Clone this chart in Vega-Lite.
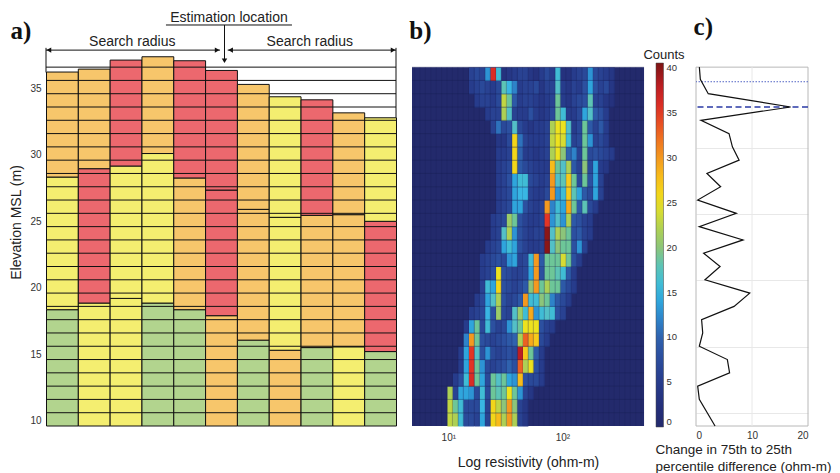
{
"$schema": "https://vega.github.io/schema/vega-lite/v6.json",
"padding": {"left": 9, "top": 2, "right": 0, "bottom": 0},
"background": "white",
"bounds": "flush",
"spacing": 16,
"config": {
  "font": "Liberation Sans",
  "view": {"stroke": null},
  "axis": {"labelFont": "Liberation Sans", "titleFont": "Liberation Sans", "labelColor": "#333", "titleColor": "#222", "titleFontWeight": "normal"},
  "legend": {"labelFont": "Liberation Sans"}
},
"datasets": {
  "bars": [
    {"col":0,"b":9.6,"t":18.35,"k":"green"},{"col":0,"b":18.35,"t":28.33,"k":"yellow"},{"col":0,"b":28.33,"t":36.23,"k":"orange"},
    {"col":1,"b":9.6,"t":18.85,"k":"yellow"},{"col":1,"b":18.85,"t":28.96,"k":"red"},{"col":1,"b":28.96,"t":36.45,"k":"orange"},
    {"col":2,"b":9.6,"t":19.2,"k":"yellow"},{"col":2,"b":19.2,"t":29.16,"k":"yellow"},{"col":2,"b":29.16,"t":37.13,"k":"red"},
    {"col":3,"b":9.6,"t":18.85,"k":"green"},{"col":3,"b":18.85,"t":30.1,"k":"yellow"},{"col":3,"b":30.1,"t":37.38,"k":"orange"},
    {"col":4,"b":9.6,"t":18.35,"k":"green"},{"col":4,"b":18.35,"t":28.26,"k":"orange"},{"col":4,"b":28.26,"t":37.08,"k":"red"},
    {"col":5,"b":9.6,"t":17.9,"k":"orange"},{"col":5,"b":17.9,"t":27.35,"k":"red"},{"col":5,"b":27.35,"t":36.35,"k":"red"},
    {"col":6,"b":9.6,"t":16.06,"k":"green"},{"col":6,"b":16.06,"t":25.9,"k":"orange"},{"col":6,"b":25.9,"t":35.3,"k":"orange"},
    {"col":7,"b":9.6,"t":15.3,"k":"orange"},{"col":7,"b":15.3,"t":25.3,"k":"yellow"},{"col":7,"b":25.3,"t":34.37,"k":"yellow"},
    {"col":8,"b":9.6,"t":15.5,"k":"green"},{"col":8,"b":15.5,"t":25.45,"k":"orange"},{"col":8,"b":25.45,"t":34.14,"k":"red"},
    {"col":9,"b":9.6,"t":15.56,"k":"yellow"},{"col":9,"b":15.56,"t":25.5,"k":"orange"},{"col":9,"b":25.5,"t":33.16,"k":"orange"},
    {"col":10,"b":9.6,"t":15.2,"k":"green"},{"col":10,"b":15.2,"t":25.0,"k":"red"},{"col":10,"b":25.0,"t":32.79,"k":"yellow"}
  ],
  "layers": [
    {"e":10.6},{"e":11.6},{"e":12.6},{"e":13.6},{"e":14.6},{"e":15.6},{"e":16.6},{"e":17.6},{"e":18.6},{"e":19.6},
    {"e":20.6},{"e":21.6},{"e":22.6},{"e":23.6},{"e":24.6},{"e":25.6},{"e":26.6},{"e":27.6},{"e":28.6},{"e":29.6},
    {"e":30.6},{"e":31.6},{"e":32.6},{"e":33.6},{"e":34.6},{"e":35.6},{"e":36.6}
  ],
  "rbins": [
    {"r":0.705},{"r":0.752},{"r":0.799},{"r":0.847},{"r":0.894},{"r":0.941},{"r":0.988},{"r":1.036},{"r":1.083},{"r":1.13},
    {"r":1.177},{"r":1.225},{"r":1.272},{"r":1.319},{"r":1.366},{"r":1.414},{"r":1.461},{"r":1.508},{"r":1.555},{"r":1.603},
    {"r":1.65},{"r":1.697},{"r":1.744},{"r":1.792},{"r":1.839},{"r":1.886},{"r":1.933},{"r":1.98},{"r":2.028},{"r":2.075},
    {"r":2.122},{"r":2.169},{"r":2.217},{"r":2.264},{"r":2.311},{"r":2.358},{"r":2.406},{"r":2.453},{"r":2.5},{"r":2.547},
    {"r":2.595},{"r":2.642},{"r":2.689}
  ],
  "spread": [
    {"e":36.6,"v":0.6},{"e":35.68,"v":0.77},{"e":34.6,"v":2.19},{"e":33.6,"v":16.9},{"e":32.6,"v":0.89},{"e":31.6,"v":5.9},
    {"e":30.6,"v":6.5},{"e":29.6,"v":7.7},{"e":28.6,"v":1.95},{"e":27.6,"v":4.4},{"e":26.6,"v":0.3},{"e":25.6,"v":7.2},
    {"e":24.6,"v":0.59},{"e":23.6,"v":8.4},{"e":22.6,"v":1.36},{"e":21.6,"v":4.3},{"e":20.6,"v":1.6},{"e":19.6,"v":9.6},
    {"e":18.6,"v":6.8},{"e":17.6,"v":1.0},{"e":16.6,"v":1.2},{"e":15.6,"v":0.59},{"e":14.6,"v":5.6},{"e":13.6,"v":6.0},
    {"e":12.6,"v":0.3},{"e":11.6,"v":0.59},{"e":9.6,"v":3.4}
  ],
  "heat": [
    {"e":35.6,"r":1.177,"n":6},{"e":35.6,"r":1.225,"n":7},{"e":35.6,"r":1.272,"n":6},{"e":35.6,"r":1.319,"n":13},{"e":35.6,"r":1.366,"n":36},{"e":35.6,"r":1.414,"n":16},{"e":35.6,"r":1.461,"n":3},{"e":35.6,"r":1.508,"n":4},{"e":35.6,"r":1.555,"n":5},{"e":35.6,"r":1.603,"n":6},{"e":35.6,"r":1.65,"n":6},{"e":35.6,"r":1.697,"n":4},{"e":35.6,"r":1.744,"n":3},{"e":35.6,"r":1.792,"n":5},{"e":35.6,"r":1.839,"n":7},{"e":35.6,"r":1.886,"n":5},{"e":35.6,"r":1.933,"n":16},{"e":35.6,"r":1.98,"n":3},{"e":35.6,"r":2.028,"n":3},{"e":35.6,"r":2.075,"n":5},{"e":35.6,"r":2.122,"n":6},{"e":35.6,"r":2.169,"n":7},{"e":35.6,"r":2.217,"n":13},{"e":35.6,"r":2.264,"n":7},{"e":35.6,"r":2.311,"n":6},{"e":35.6,"r":2.358,"n":5},{"e":35.6,"r":2.406,"n":4},
    {"e":34.6,"r":1.177,"n":5},{"e":34.6,"r":1.225,"n":6},{"e":34.6,"r":1.272,"n":7},{"e":34.6,"r":1.319,"n":6},{"e":34.6,"r":1.366,"n":5},{"e":34.6,"r":1.414,"n":7},{"e":34.6,"r":1.461,"n":18},{"e":34.6,"r":1.508,"n":15},{"e":34.6,"r":1.555,"n":12},{"e":34.6,"r":1.603,"n":5},{"e":34.6,"r":1.65,"n":6},{"e":34.6,"r":1.697,"n":6},{"e":34.6,"r":1.744,"n":7},{"e":34.6,"r":1.792,"n":4},{"e":34.6,"r":1.839,"n":6},{"e":34.6,"r":1.886,"n":6},{"e":34.6,"r":1.933,"n":17},{"e":34.6,"r":1.98,"n":5},{"e":34.6,"r":2.028,"n":4},{"e":34.6,"r":2.075,"n":6},{"e":34.6,"r":2.122,"n":5},{"e":34.6,"r":2.169,"n":8},{"e":34.6,"r":2.217,"n":14},{"e":34.6,"r":2.264,"n":8},{"e":34.6,"r":2.311,"n":6},{"e":34.6,"r":2.358,"n":7},{"e":34.6,"r":2.406,"n":4},
    {"e":33.6,"r":1.225,"n":5},{"e":33.6,"r":1.272,"n":6},{"e":33.6,"r":1.319,"n":6},{"e":33.6,"r":1.366,"n":5},{"e":33.6,"r":1.414,"n":7},{"e":33.6,"r":1.461,"n":23},{"e":33.6,"r":1.508,"n":19},{"e":33.6,"r":1.555,"n":9},{"e":33.6,"r":1.603,"n":5},{"e":33.6,"r":1.65,"n":6},{"e":33.6,"r":1.697,"n":6},{"e":33.6,"r":1.744,"n":5},{"e":33.6,"r":1.792,"n":4},{"e":33.6,"r":1.839,"n":5},{"e":33.6,"r":1.886,"n":6},{"e":33.6,"r":1.933,"n":19},{"e":33.6,"r":1.98,"n":5},{"e":33.6,"r":2.028,"n":4},{"e":33.6,"r":2.075,"n":6},{"e":33.6,"r":2.122,"n":7},{"e":33.6,"r":2.169,"n":8},{"e":33.6,"r":2.217,"n":18},{"e":33.6,"r":2.264,"n":6},{"e":33.6,"r":2.311,"n":6},{"e":33.6,"r":2.358,"n":4},{"e":33.6,"r":2.406,"n":3},
    {"e":32.6,"r":1.319,"n":5},{"e":32.6,"r":1.366,"n":6},{"e":32.6,"r":1.414,"n":6},{"e":32.6,"r":1.461,"n":22},{"e":32.6,"r":1.508,"n":17},{"e":32.6,"r":1.555,"n":6},{"e":32.6,"r":1.603,"n":5},{"e":32.6,"r":1.65,"n":5},{"e":32.6,"r":1.697,"n":8},{"e":32.6,"r":1.744,"n":5},{"e":32.6,"r":1.792,"n":4},{"e":32.6,"r":1.839,"n":5},{"e":32.6,"r":1.886,"n":7},{"e":32.6,"r":1.933,"n":19},{"e":32.6,"r":1.98,"n":16},{"e":32.6,"r":2.028,"n":5},{"e":32.6,"r":2.075,"n":5},{"e":32.6,"r":2.122,"n":7},{"e":32.6,"r":2.169,"n":14},{"e":32.6,"r":2.217,"n":17},{"e":32.6,"r":2.264,"n":9},{"e":32.6,"r":2.311,"n":8},{"e":32.6,"r":2.358,"n":5},
    {"e":31.6,"r":1.366,"n":6},{"e":31.6,"r":1.414,"n":11},{"e":31.6,"r":1.461,"n":7},{"e":31.6,"r":1.508,"n":8},{"e":31.6,"r":1.555,"n":17},{"e":31.6,"r":1.603,"n":7},{"e":31.6,"r":1.65,"n":5},{"e":31.6,"r":1.697,"n":4},{"e":31.6,"r":1.744,"n":5},{"e":31.6,"r":1.792,"n":5},{"e":31.6,"r":1.839,"n":6},{"e":31.6,"r":1.886,"n":22},{"e":31.6,"r":1.933,"n":25},{"e":31.6,"r":1.98,"n":25},{"e":31.6,"r":2.028,"n":17},{"e":31.6,"r":2.075,"n":5},{"e":31.6,"r":2.122,"n":7},{"e":31.6,"r":2.169,"n":19},{"e":31.6,"r":2.217,"n":9},{"e":31.6,"r":2.264,"n":6},{"e":31.6,"r":2.311,"n":9},{"e":31.6,"r":2.358,"n":5},
    {"e":30.6,"r":1.414,"n":4},{"e":30.6,"r":1.461,"n":4},{"e":30.6,"r":1.508,"n":7},{"e":30.6,"r":1.555,"n":26},{"e":30.6,"r":1.603,"n":11},{"e":30.6,"r":1.65,"n":6},{"e":30.6,"r":1.697,"n":5},{"e":30.6,"r":1.744,"n":5},{"e":30.6,"r":1.792,"n":5},{"e":30.6,"r":1.839,"n":6},{"e":30.6,"r":1.886,"n":23},{"e":30.6,"r":1.933,"n":25},{"e":30.6,"r":1.98,"n":24},{"e":30.6,"r":2.028,"n":16},{"e":30.6,"r":2.075,"n":6},{"e":30.6,"r":2.122,"n":7},{"e":30.6,"r":2.169,"n":19},{"e":30.6,"r":2.217,"n":13},{"e":30.6,"r":2.264,"n":6},{"e":30.6,"r":2.311,"n":7},{"e":30.6,"r":2.358,"n":5},
    {"e":29.6,"r":1.414,"n":5},{"e":29.6,"r":1.461,"n":5},{"e":29.6,"r":1.508,"n":6},{"e":29.6,"r":1.555,"n":26},{"e":29.6,"r":1.603,"n":10},{"e":29.6,"r":1.65,"n":5},{"e":29.6,"r":1.697,"n":5},{"e":29.6,"r":1.744,"n":4},{"e":29.6,"r":1.792,"n":5},{"e":29.6,"r":1.839,"n":6},{"e":29.6,"r":1.886,"n":22},{"e":29.6,"r":1.933,"n":25},{"e":29.6,"r":1.98,"n":20},{"e":29.6,"r":2.028,"n":10},{"e":29.6,"r":2.075,"n":12},{"e":29.6,"r":2.122,"n":6},{"e":29.6,"r":2.169,"n":19},{"e":29.6,"r":2.217,"n":7},{"e":29.6,"r":2.264,"n":8},{"e":29.6,"r":2.311,"n":7},{"e":29.6,"r":2.358,"n":6},{"e":29.6,"r":2.406,"n":5},
    {"e":28.6,"r":1.414,"n":5},{"e":28.6,"r":1.461,"n":6},{"e":28.6,"r":1.508,"n":7},{"e":28.6,"r":1.555,"n":26},{"e":28.6,"r":1.603,"n":9},{"e":28.6,"r":1.65,"n":7},{"e":28.6,"r":1.697,"n":6},{"e":28.6,"r":1.744,"n":5},{"e":28.6,"r":1.792,"n":5},{"e":28.6,"r":1.839,"n":5},{"e":28.6,"r":1.886,"n":28},{"e":28.6,"r":1.933,"n":19},{"e":28.6,"r":1.98,"n":17},{"e":28.6,"r":2.028,"n":22},{"e":28.6,"r":2.075,"n":9},{"e":28.6,"r":2.122,"n":6},{"e":28.6,"r":2.169,"n":20},{"e":28.6,"r":2.217,"n":7},{"e":28.6,"r":2.264,"n":14},{"e":28.6,"r":2.311,"n":5},{"e":28.6,"r":2.358,"n":4},
    {"e":27.6,"r":1.414,"n":5},{"e":27.6,"r":1.461,"n":6},{"e":27.6,"r":1.508,"n":8},{"e":27.6,"r":1.555,"n":14},{"e":27.6,"r":1.603,"n":16},{"e":27.6,"r":1.65,"n":16},{"e":27.6,"r":1.697,"n":7},{"e":27.6,"r":1.744,"n":6},{"e":27.6,"r":1.792,"n":5},{"e":27.6,"r":1.839,"n":6},{"e":27.6,"r":1.886,"n":30},{"e":27.6,"r":1.933,"n":17},{"e":27.6,"r":1.98,"n":18},{"e":27.6,"r":2.028,"n":27},{"e":27.6,"r":2.075,"n":19},{"e":27.6,"r":2.122,"n":7},{"e":27.6,"r":2.169,"n":19},{"e":27.6,"r":2.217,"n":8},{"e":27.6,"r":2.264,"n":14},{"e":27.6,"r":2.311,"n":6},
    {"e":26.6,"r":1.414,"n":5},{"e":26.6,"r":1.461,"n":6},{"e":26.6,"r":1.508,"n":7},{"e":26.6,"r":1.555,"n":14},{"e":26.6,"r":1.603,"n":15},{"e":26.6,"r":1.65,"n":15},{"e":26.6,"r":1.697,"n":6},{"e":26.6,"r":1.744,"n":5},{"e":26.6,"r":1.792,"n":5},{"e":26.6,"r":1.839,"n":7},{"e":26.6,"r":1.886,"n":30},{"e":26.6,"r":1.933,"n":13},{"e":26.6,"r":1.98,"n":16},{"e":26.6,"r":2.028,"n":27},{"e":26.6,"r":2.075,"n":18},{"e":26.6,"r":2.122,"n":14},{"e":26.6,"r":2.169,"n":9},{"e":26.6,"r":2.217,"n":7},{"e":26.6,"r":2.264,"n":14},{"e":26.6,"r":2.311,"n":6},
    {"e":25.6,"r":1.414,"n":5},{"e":25.6,"r":1.461,"n":6},{"e":25.6,"r":1.508,"n":7},{"e":25.6,"r":1.555,"n":14},{"e":25.6,"r":1.603,"n":14},{"e":25.6,"r":1.65,"n":8},{"e":25.6,"r":1.697,"n":6},{"e":25.6,"r":1.744,"n":5},{"e":25.6,"r":1.792,"n":6},{"e":25.6,"r":1.839,"n":30},{"e":25.6,"r":1.886,"n":12},{"e":25.6,"r":1.933,"n":16},{"e":25.6,"r":1.98,"n":14},{"e":25.6,"r":2.028,"n":29},{"e":25.6,"r":2.075,"n":19},{"e":25.6,"r":2.122,"n":9},{"e":25.6,"r":2.169,"n":18},{"e":25.6,"r":2.217,"n":7},{"e":25.6,"r":2.264,"n":5},
    {"e":24.6,"r":1.366,"n":5},{"e":24.6,"r":1.414,"n":6},{"e":24.6,"r":1.461,"n":7},{"e":24.6,"r":1.508,"n":21},{"e":24.6,"r":1.555,"n":19},{"e":24.6,"r":1.603,"n":8},{"e":24.6,"r":1.65,"n":6},{"e":24.6,"r":1.697,"n":5},{"e":24.6,"r":1.744,"n":5},{"e":24.6,"r":1.792,"n":6},{"e":24.6,"r":1.839,"n":35},{"e":24.6,"r":1.886,"n":13},{"e":24.6,"r":1.933,"n":17},{"e":24.6,"r":1.98,"n":13},{"e":24.6,"r":2.028,"n":22},{"e":24.6,"r":2.075,"n":9},{"e":24.6,"r":2.122,"n":8},{"e":24.6,"r":2.169,"n":6},{"e":24.6,"r":2.217,"n":5},
    {"e":23.6,"r":1.366,"n":5},{"e":23.6,"r":1.414,"n":6},{"e":23.6,"r":1.461,"n":17},{"e":23.6,"r":1.508,"n":22},{"e":23.6,"r":1.555,"n":13},{"e":23.6,"r":1.603,"n":8},{"e":23.6,"r":1.65,"n":6},{"e":23.6,"r":1.697,"n":5},{"e":23.6,"r":1.744,"n":6},{"e":23.6,"r":1.792,"n":6},{"e":23.6,"r":1.839,"n":40},{"e":23.6,"r":1.886,"n":17},{"e":23.6,"r":1.933,"n":22},{"e":23.6,"r":1.98,"n":20},{"e":23.6,"r":2.028,"n":19},{"e":23.6,"r":2.075,"n":8},{"e":23.6,"r":2.122,"n":9},{"e":23.6,"r":2.169,"n":6},{"e":23.6,"r":2.217,"n":5},
    {"e":22.6,"r":1.319,"n":5},{"e":22.6,"r":1.366,"n":6},{"e":22.6,"r":1.414,"n":7},{"e":22.6,"r":1.461,"n":14},{"e":22.6,"r":1.508,"n":16},{"e":22.6,"r":1.555,"n":14},{"e":22.6,"r":1.603,"n":8},{"e":22.6,"r":1.65,"n":6},{"e":22.6,"r":1.697,"n":5},{"e":22.6,"r":1.744,"n":5},{"e":22.6,"r":1.792,"n":6},{"e":22.6,"r":1.839,"n":40},{"e":22.6,"r":1.886,"n":17},{"e":22.6,"r":1.933,"n":20},{"e":22.6,"r":1.98,"n":19},{"e":22.6,"r":2.028,"n":19},{"e":22.6,"r":2.075,"n":8},{"e":22.6,"r":2.122,"n":13},{"e":22.6,"r":2.169,"n":6},
    {"e":21.6,"r":1.272,"n":5},{"e":21.6,"r":1.319,"n":6},{"e":21.6,"r":1.366,"n":7},{"e":21.6,"r":1.414,"n":8},{"e":21.6,"r":1.461,"n":7},{"e":21.6,"r":1.508,"n":13},{"e":21.6,"r":1.555,"n":14},{"e":21.6,"r":1.603,"n":6},{"e":21.6,"r":1.65,"n":7},{"e":21.6,"r":1.697,"n":16},{"e":21.6,"r":1.744,"n":30},{"e":21.6,"r":1.792,"n":9},{"e":21.6,"r":1.839,"n":19},{"e":21.6,"r":1.886,"n":19},{"e":21.6,"r":1.933,"n":19},{"e":21.6,"r":1.98,"n":24},{"e":21.6,"r":2.028,"n":19},{"e":21.6,"r":2.075,"n":8},{"e":21.6,"r":2.122,"n":5},
    {"e":20.6,"r":1.272,"n":5},{"e":20.6,"r":1.319,"n":6},{"e":20.6,"r":1.366,"n":8},{"e":20.6,"r":1.414,"n":25},{"e":20.6,"r":1.461,"n":8},{"e":20.6,"r":1.508,"n":7},{"e":20.6,"r":1.555,"n":6},{"e":20.6,"r":1.603,"n":6},{"e":20.6,"r":1.65,"n":7},{"e":20.6,"r":1.697,"n":14},{"e":20.6,"r":1.744,"n":30},{"e":20.6,"r":1.792,"n":8},{"e":20.6,"r":1.839,"n":19},{"e":20.6,"r":1.886,"n":19},{"e":20.6,"r":1.933,"n":18},{"e":20.6,"r":1.98,"n":16},{"e":20.6,"r":2.028,"n":9},{"e":20.6,"r":2.075,"n":5},
    {"e":19.6,"r":1.272,"n":6},{"e":19.6,"r":1.319,"n":16},{"e":19.6,"r":1.366,"n":14},{"e":19.6,"r":1.414,"n":26},{"e":19.6,"r":1.461,"n":8},{"e":19.6,"r":1.508,"n":7},{"e":19.6,"r":1.555,"n":6},{"e":19.6,"r":1.603,"n":7},{"e":19.6,"r":1.65,"n":9},{"e":19.6,"r":1.697,"n":20},{"e":19.6,"r":1.744,"n":30},{"e":19.6,"r":1.792,"n":19},{"e":19.6,"r":1.839,"n":22},{"e":19.6,"r":1.886,"n":19},{"e":19.6,"r":1.933,"n":19},{"e":19.6,"r":1.98,"n":9},{"e":19.6,"r":2.028,"n":7},{"e":19.6,"r":2.075,"n":5},
    {"e":18.6,"r":1.225,"n":5},{"e":18.6,"r":1.272,"n":7},{"e":18.6,"r":1.319,"n":14},{"e":18.6,"r":1.366,"n":17},{"e":18.6,"r":1.414,"n":22},{"e":18.6,"r":1.461,"n":8},{"e":18.6,"r":1.508,"n":6},{"e":18.6,"r":1.555,"n":7},{"e":18.6,"r":1.603,"n":9},{"e":18.6,"r":1.65,"n":30},{"e":18.6,"r":1.697,"n":16},{"e":18.6,"r":1.744,"n":16},{"e":18.6,"r":1.792,"n":20},{"e":18.6,"r":1.839,"n":19},{"e":18.6,"r":1.886,"n":12},{"e":18.6,"r":1.933,"n":9},{"e":18.6,"r":1.98,"n":7},{"e":18.6,"r":2.028,"n":5},
    {"e":17.6,"r":1.177,"n":5},{"e":17.6,"r":1.225,"n":6},{"e":17.6,"r":1.272,"n":7},{"e":17.6,"r":1.319,"n":15},{"e":17.6,"r":1.366,"n":8},{"e":17.6,"r":1.414,"n":21},{"e":17.6,"r":1.461,"n":7},{"e":17.6,"r":1.508,"n":6},{"e":17.6,"r":1.555,"n":17},{"e":17.6,"r":1.603,"n":21},{"e":17.6,"r":1.65,"n":16},{"e":17.6,"r":1.697,"n":29},{"e":17.6,"r":1.744,"n":13},{"e":17.6,"r":1.792,"n":16},{"e":17.6,"r":1.839,"n":17},{"e":17.6,"r":1.886,"n":16},{"e":17.6,"r":1.933,"n":8},{"e":17.6,"r":1.98,"n":6},
    {"e":16.6,"r":1.13,"n":5},{"e":16.6,"r":1.177,"n":14},{"e":16.6,"r":1.225,"n":19},{"e":16.6,"r":1.272,"n":7},{"e":16.6,"r":1.319,"n":16},{"e":16.6,"r":1.366,"n":8},{"e":16.6,"r":1.414,"n":6},{"e":16.6,"r":1.461,"n":7},{"e":16.6,"r":1.508,"n":13},{"e":16.6,"r":1.555,"n":17},{"e":16.6,"r":1.603,"n":19},{"e":16.6,"r":1.65,"n":25},{"e":16.6,"r":1.697,"n":25},{"e":16.6,"r":1.744,"n":25},{"e":16.6,"r":1.792,"n":8},{"e":16.6,"r":1.839,"n":6},{"e":16.6,"r":1.886,"n":5},
    {"e":15.6,"r":1.13,"n":12},{"e":15.6,"r":1.177,"n":30},{"e":15.6,"r":1.225,"n":19},{"e":15.6,"r":1.272,"n":8},{"e":15.6,"r":1.319,"n":7},{"e":15.6,"r":1.366,"n":6},{"e":15.6,"r":1.414,"n":7},{"e":15.6,"r":1.461,"n":8},{"e":15.6,"r":1.508,"n":9},{"e":15.6,"r":1.555,"n":10},{"e":15.6,"r":1.603,"n":22},{"e":15.6,"r":1.65,"n":33},{"e":15.6,"r":1.697,"n":29},{"e":15.6,"r":1.744,"n":27},{"e":15.6,"r":1.792,"n":7},{"e":15.6,"r":1.839,"n":5},
    {"e":14.6,"r":1.083,"n":5},{"e":14.6,"r":1.13,"n":14},{"e":14.6,"r":1.177,"n":35},{"e":14.6,"r":1.225,"n":17},{"e":14.6,"r":1.272,"n":8},{"e":14.6,"r":1.319,"n":13},{"e":14.6,"r":1.366,"n":7},{"e":14.6,"r":1.414,"n":6},{"e":14.6,"r":1.461,"n":7},{"e":14.6,"r":1.508,"n":8},{"e":14.6,"r":1.555,"n":7},{"e":14.6,"r":1.603,"n":38},{"e":14.6,"r":1.65,"n":27},{"e":14.6,"r":1.697,"n":19},{"e":14.6,"r":1.744,"n":9},{"e":14.6,"r":1.792,"n":5},
    {"e":13.6,"r":1.083,"n":5},{"e":13.6,"r":1.13,"n":14},{"e":13.6,"r":1.177,"n":35},{"e":13.6,"r":1.225,"n":19},{"e":13.6,"r":1.272,"n":13},{"e":13.6,"r":1.319,"n":7},{"e":13.6,"r":1.366,"n":6},{"e":13.6,"r":1.414,"n":7},{"e":13.6,"r":1.461,"n":8},{"e":13.6,"r":1.508,"n":10},{"e":13.6,"r":1.555,"n":8},{"e":13.6,"r":1.603,"n":33},{"e":13.6,"r":1.65,"n":22},{"e":13.6,"r":1.697,"n":25},{"e":13.6,"r":1.744,"n":8},{"e":13.6,"r":1.792,"n":5},
    {"e":12.6,"r":1.036,"n":5},{"e":12.6,"r":1.083,"n":8},{"e":12.6,"r":1.13,"n":16},{"e":12.6,"r":1.177,"n":36},{"e":12.6,"r":1.225,"n":19},{"e":12.6,"r":1.272,"n":14},{"e":12.6,"r":1.319,"n":7},{"e":12.6,"r":1.366,"n":19},{"e":12.6,"r":1.414,"n":17},{"e":12.6,"r":1.461,"n":19},{"e":12.6,"r":1.508,"n":14},{"e":12.6,"r":1.555,"n":13},{"e":12.6,"r":1.603,"n":28},{"e":12.6,"r":1.65,"n":8},{"e":12.6,"r":1.697,"n":7},{"e":12.6,"r":1.744,"n":7},{"e":12.6,"r":1.792,"n":5},
    {"e":11.6,"r":0.988,"n":22},{"e":11.6,"r":1.036,"n":6},{"e":11.6,"r":1.083,"n":14},{"e":11.6,"r":1.13,"n":14},{"e":11.6,"r":1.177,"n":13},{"e":11.6,"r":1.225,"n":7},{"e":11.6,"r":1.272,"n":16},{"e":11.6,"r":1.319,"n":7},{"e":11.6,"r":1.366,"n":19},{"e":11.6,"r":1.414,"n":18},{"e":11.6,"r":1.461,"n":19},{"e":11.6,"r":1.508,"n":25},{"e":11.6,"r":1.555,"n":19},{"e":11.6,"r":1.603,"n":13},{"e":11.6,"r":1.65,"n":6},{"e":11.6,"r":1.697,"n":4},
    {"e":10.6,"r":0.988,"n":23},{"e":10.6,"r":1.036,"n":19},{"e":10.6,"r":1.083,"n":16},{"e":10.6,"r":1.13,"n":7},{"e":10.6,"r":1.177,"n":7},{"e":10.6,"r":1.225,"n":7},{"e":10.6,"r":1.272,"n":15},{"e":10.6,"r":1.319,"n":6},{"e":10.6,"r":1.366,"n":26},{"e":10.6,"r":1.414,"n":23},{"e":10.6,"r":1.461,"n":20},{"e":10.6,"r":1.508,"n":30},{"e":10.6,"r":1.555,"n":20},{"e":10.6,"r":1.603,"n":6},{"e":10.6,"r":1.65,"n":4},
    {"e":9.6,"r":0.988,"n":23},{"e":9.6,"r":1.036,"n":22},{"e":9.6,"r":1.083,"n":16},{"e":9.6,"r":1.13,"n":7},{"e":9.6,"r":1.177,"n":7},{"e":9.6,"r":1.225,"n":6},{"e":9.6,"r":1.272,"n":14},{"e":9.6,"r":1.319,"n":6},{"e":9.6,"r":1.366,"n":26},{"e":9.6,"r":1.414,"n":28},{"e":9.6,"r":1.461,"n":22},{"e":9.6,"r":1.508,"n":30},{"e":9.6,"r":1.555,"n":22},{"e":9.6,"r":1.603,"n":6},{"e":9.6,"r":1.65,"n":4}
  ]
},
"hconcat": [
  {
    "width": 350, "height": 424,
    "layer": [
      {"data": {"name": "bars"},
       "mark": {"type": "rect", "stroke": "#111", "strokeWidth": 1},
       "encoding": {
         "x": {"field": "col", "type": "quantitative", "bin": {"binned": true, "step": 1}, "scale": {"domain": [0, 11], "nice": false, "zero": false}, "axis": null},
         "y": {"field": "b", "type": "quantitative", "scale": {"domain": [9.6, 41.5], "nice": false, "zero": false},
               "axis": {"values": [10, 15, 20, 25, 30, 35], "ticks": false, "domain": false, "grid": false, "labelFontSize": 10, "labelPadding": 5, "title": "Elevation MSL (m)", "titleFontSize": 14, "titlePadding": 6, "titleY": 220}},
         "y2": {"field": "t"},
         "color": {"field": "k", "type": "nominal", "scale": {"domain": ["green", "yellow", "orange", "red"], "range": ["#b2d48e", "#f4ee70", "#f7c66b", "#ec686e"]}, "legend": null}
       }},
      {"data": {"name": "layers"}, "mark": {"type": "rule", "color": "#111", "strokeWidth": 1}, "encoding": {"y": {"field": "e", "type": "quantitative"}}},
      {"data": {"values": [{}]}, "mark": {"type": "rule", "color": "#111", "strokeWidth": 1}, "encoding": {"x": {"datum": 0}, "x2": {"datum": 5.47}, "y": {"datum": 37.88}}},
      {"data": {"values": [{}]}, "mark": {"type": "rule", "color": "#111", "strokeWidth": 1}, "encoding": {"x": {"datum": 5.71}, "x2": {"datum": 11}, "y": {"datum": 37.88}}},
      {"data": {"values": [{}]}, "mark": {"type": "rule", "color": "#111", "strokeWidth": 1}, "encoding": {"x": {"datum": 0}, "y": {"datum": 36.2}, "y2": {"datum": 38.05}}},
      {"data": {"values": [{}]}, "mark": {"type": "rule", "color": "#111", "strokeWidth": 1}, "encoding": {"x": {"datum": 11}, "y": {"datum": 32.8}, "y2": {"datum": 38.05}}},
      {"data": {"values": [{}]}, "mark": {"type": "rule", "color": "#111", "strokeWidth": 1}, "encoding": {"x": {"datum": 5.61}, "y": {"datum": 37.0}, "y2": {"datum": 39.77}}},
      {"data": {"values": [{}]}, "mark": {"type": "rule", "color": "#111", "strokeWidth": 1}, "encoding": {"x": {"datum": 3.77}, "x2": {"datum": 7.73}, "y": {"datum": 39.77}}},
      {"data": {"values": [{}]}, "mark": {"type": "point", "shape": "triangle-left", "filled": true, "color": "#111", "size": 30, "opacity": 1}, "encoding": {"x": {"datum": 0.09}, "y": {"datum": 37.88}}},
      {"data": {"values": [{}]}, "mark": {"type": "point", "shape": "triangle-right", "filled": true, "color": "#111", "size": 30, "opacity": 1}, "encoding": {"x": {"datum": 5.38}, "y": {"datum": 37.88}}},
      {"data": {"values": [{}]}, "mark": {"type": "point", "shape": "triangle-left", "filled": true, "color": "#111", "size": 30, "opacity": 1}, "encoding": {"x": {"datum": 5.8}, "y": {"datum": 37.88}}},
      {"data": {"values": [{}]}, "mark": {"type": "point", "shape": "triangle-right", "filled": true, "color": "#111", "size": 30, "opacity": 1}, "encoding": {"x": {"datum": 10.91}, "y": {"datum": 37.88}}},
      {"data": {"values": [{}]}, "mark": {"type": "point", "shape": "triangle-down", "filled": true, "color": "#111", "size": 30, "opacity": 1}, "encoding": {"x": {"datum": 5.61}, "y": {"datum": 37.08}}},
      {"data": {"values": [{}]}, "mark": {"type": "text", "text": "Estimation location", "fontSize": 14, "color": "#222", "align": "center", "baseline": "middle"}, "encoding": {"x": {"datum": 5.75}, "y": {"datum": 40.27}}},
      {"data": {"values": [{}]}, "mark": {"type": "text", "text": "Search radius", "fontSize": 14, "color": "#222", "align": "center", "baseline": "middle"}, "encoding": {"x": {"datum": 2.71}, "y": {"datum": 38.5}}},
      {"data": {"values": [{}]}, "mark": {"type": "text", "text": "Search radius", "fontSize": 14, "color": "#222", "align": "center", "baseline": "middle"}, "encoding": {"x": {"datum": 8.29}, "y": {"datum": 38.5}}},
      {"data": {"values": [{}]}, "mark": {"type": "text", "text": "a)", "font": "Liberation Serif", "fontWeight": "bold", "fontSize": 25, "color": "#111", "align": "center", "baseline": "middle"}, "encoding": {"x": {"datum": -0.79}, "y": {"datum": 39.32}}}
    ]
  },
  {
    "width": 268, "height": 424,
    "layer": [
      {"data": {"values": [{}]},
       "mark": {"type": "rect", "color": "#232a6c"},
       "encoding": {
         "x": {"datum": 0.682, "type": "quantitative", "scale": {"domain": [0.682, 3.03], "nice": false, "zero": false},
               "axis": {"values": [1, 2], "labelExpr": "datum.value == 1 ? '10¹' : '10²'", "ticks": false, "domain": false, "grid": false, "labelFontSize": 10, "labelPadding": 6, "title": "Log resistivity (ohm-m)", "titleFontSize": 14, "titleX": 116, "titleY": 36, "titleAlign": "center", "titleBaseline": "middle"}},
         "x2": {"datum": 2.715},
         "y": {"datum": 9.6, "type": "quantitative", "scale": {"domain": [9.6, 41.5], "nice": false, "zero": false}, "axis": null},
         "y2": {"datum": 36.6}
       }},
      {"data": {"name": "heat"},
       "mark": {"type": "rect"},
       "encoding": {
         "x": {"field": "r", "type": "quantitative", "bin": {"binned": true, "step": 0.04724}},
         "y": {"field": "e", "type": "quantitative", "bin": {"binned": true, "step": 1}},
         "color": {"field": "n", "type": "quantitative",
                   "scale": {"domain": [0, 2.5, 5, 7.5, 10, 12.5, 15, 17.5, 20, 22.5, 25, 27.5, 30, 32.5, 35, 37.5, 40.6],
                             "range": ["#232a6c", "#242f7b", "#273c8c", "#2b4c9c", "#2f62ae", "#2f8bcf", "#39b6e3", "#5ec2c0", "#8cc57a", "#b8d24a", "#ede21e", "#f7c41c", "#f3991f", "#ed6a22", "#e33525", "#c92025", "#7d1414"]},
                   "legend": {"orient": "none", "legendX": 244, "legendY": 61, "direction": "vertical", "title": null, "gradientLength": 364, "gradientThickness": 7.5, "gradientStrokeColor": "#444", "gradientStrokeWidth": 0.5, "values": [0, 5, 10, 15, 20, 25, 30, 35, 40], "labelFontSize": 9.5, "labelOffset": 3, "labelColor": "#333", "padding": 0}}
       }},
      {"data": {"name": "layers"}, "mark": {"type": "rule", "color": "#141a48", "strokeWidth": 0.6, "opacity": 0.45}, "encoding": {"y": {"field": "e", "type": "quantitative"}, "x": {"datum": 0.682}, "x2": {"datum": 2.715}}},
      {"data": {"name": "rbins"}, "mark": {"type": "rule", "color": "#141a48", "strokeWidth": 0.5, "opacity": 0.3}, "encoding": {"x": {"field": "r", "type": "quantitative"}, "y": {"datum": 9.6}, "y2": {"datum": 36.6}}},
      {"data": {"values": [{}]}, "mark": {"type": "text", "text": "b)", "font": "Liberation Serif", "fontWeight": "bold", "fontSize": 25, "color": "#111", "align": "center", "baseline": "middle"}, "encoding": {"x": {"datum": 0.755}, "y": {"datum": 39.32}}},
      {"data": {"values": [{}]}, "mark": {"type": "text", "text": "Counts", "fontSize": 13, "color": "#222", "align": "center", "baseline": "middle"}, "encoding": {"x": {"datum": 2.89}, "y": {"datum": 37.51}}}
    ]
  },
  {
    "width": 112, "height": 424,
    "layer": [
      {"data": {"values": [{}]},
       "mark": {"type": "rect", "filled": false, "stroke": "#b8b8b8", "strokeWidth": 1},
       "encoding": {
         "x": {"datum": 0, "type": "quantitative", "scale": {"domain": [0, 20], "nice": false, "zero": false},
               "axis": {"values": [0, 10, 20], "ticks": false, "domain": false, "grid": false, "labelFontSize": 10, "labelPadding": 4, "title": ["Change in 75th to 25th", "percentile difference (ohm-m)"], "titleFontSize": 13.5, "titleX": -41, "titleY": 16, "titleAlign": "left", "titleBaseline": "top", "titleLineHeight": 17}},
         "x2": {"datum": 20},
         "y": {"datum": 9.6, "type": "quantitative", "scale": {"domain": [9.6, 41.5], "nice": false, "zero": false},
               "axis": {"values": [10.55, 15.55, 20.55, 25.55, 30.55], "labels": false, "ticks": false, "domain": false, "grid": true, "gridColor": "#e8e8e8", "title": null}},
         "y2": {"datum": 36.6}
       }},
      {"data": {"values": [{}]}, "mark": {"type": "rule", "color": "#e8e8e8", "strokeWidth": 1}, "encoding": {"x": {"datum": 10}, "y": {"datum": 9.6}, "y2": {"datum": 36.6}}},
      {"data": {"values": [{}]}, "mark": {"type": "rule", "color": "#5264c4", "strokeWidth": 1, "strokeDash": [1.5, 1.5]}, "encoding": {"y": {"datum": 35.5}}},
      {"data": {"values": [{}]}, "mark": {"type": "rule", "color": "#2a3aa5", "strokeWidth": 1.3, "strokeDash": [6, 3.5]}, "encoding": {"y": {"datum": 33.6}}},
      {"data": {"name": "spread"}, "mark": {"type": "line", "color": "#111", "strokeWidth": 1.2},
       "encoding": {"x": {"field": "v", "type": "quantitative"}, "y": {"field": "e", "type": "quantitative"}, "order": {"field": "e", "type": "quantitative"}}},
      {"data": {"values": [{}]}, "mark": {"type": "text", "text": "c)", "font": "Liberation Serif", "fontWeight": "bold", "fontSize": 25, "color": "#111", "align": "center", "baseline": "middle"}, "encoding": {"x": {"datum": 1.3}, "y": {"datum": 39.62}}}
    ]
  }
]
}
